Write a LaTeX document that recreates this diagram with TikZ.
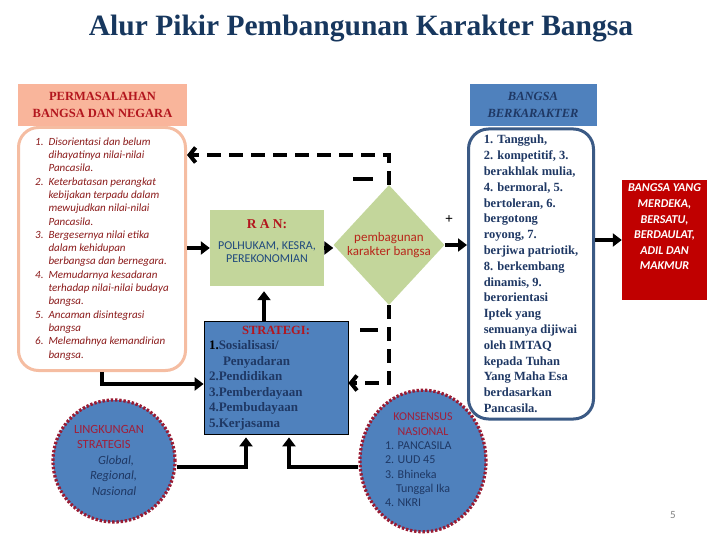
\documentclass[tikz,border=0pt]{standalone}
\usepackage{fontspec}
\setmainfont{Liberation Serif}
\newfontfamily\calibri{Carlito}
\usetikzlibrary{arrows.meta,shapes.geometric,calc}
\definecolor{titlenavy}{HTML}{17375E}
\definecolor{hdsalmon}{HTML}{F9B59B}
\definecolor{hdred}{HTML}{B3161E}
\definecolor{probline}{HTML}{F5BDA2}
\definecolor{listred}{HTML}{8B1A1A}
\definecolor{pptblue}{HTML}{4F81BD}
\definecolor{navy}{HTML}{1F3864}
\definecolor{karline}{HTML}{3B5A85}
\definecolor{ranfill}{HTML}{C3D69B}
\definecolor{diared}{HTML}{B8261A}
\definecolor{goalred}{HTML}{C00000}
\definecolor{dotred}{HTML}{9A1B33}
\definecolor{lsred}{HTML}{A01F3A}
\definecolor{polnavy}{HTML}{1F497D}
\tikzset{
  hdrbox/.style={rectangle, inner sep=0pt, align=center, minimum height=42pt},
  listbox/.style={rectangle, rounded corners=20pt, line width=3pt, fill=white, inner sep=0pt},
  plainbox/.style={rectangle, inner sep=0pt},
  dotcirc/.style={draw=dotred, line width=3.2pt, dash pattern=on 2.4pt off 1.8pt,
                  fill=pptblue, inner sep=0pt},
  arr/.style={-{Triangle[length=9pt,width=13pt]}, line width=4pt},
  fb/.style={-{Straight Barb[length=6pt,width=15pt]}, line width=4pt, dash pattern=on 14pt off 8pt},
  sign/.style={inner sep=0pt},
}

\begin{document}
\begin{tikzpicture}[x=1pt,y=-1pt]
\useasboundingbox (0,0) rectangle (720,540);

\node[font=\fontsize{29.5}{33}\selectfont\bfseries, text=titlenavy] (title) at (361,29)
   {Alur Pikir Pembangunan Karakter Bangsa};

% left column
\node[listbox, draw=probline, minimum width=167pt, minimum height=243pt, text=listred,
      font=\calibri\itshape\fontsize{11}{13.3}\selectfont] (probl) at (102,249)
   {\begin{tabular}{@{}r@{\hspace{5pt}}l@{}}
    1. & Disorientasi dan belum\\
       & dihayatinya nilai-nilai\\
       & Pancasila.\\
    2. & Keterbatasan perangkat\\
       & kebijakan terpadu dalam\\
       & mewujudkan nilai-nilai\\
       & Pancasila.\\
    3. & Bergesernya nilai etika\\
       & dalam kehidupan\\
       & berbangsa dan bernegara.\\
    4. & Memudarnya kesadaran\\
       & terhadap nilai-nilai budaya\\
       & bangsa.\\
    5. & Ancaman disintegrasi\\
       & bangsa\\
    6. & Melemahnya kemandirian\\
       & bangsa.
    \end{tabular}};
\node[hdrbox, fill=hdsalmon, minimum width=169pt, text=hdred,
      font=\fontsize{12.5}{17}\selectfont\bfseries] (probhdr) at (102.5,105)
   {PERMASALAHAN\\BANGSA DAN NEGARA};

\node[dotcirc, circle, minimum size=122pt, text=navy,
      font=\calibri\fontsize{12.5}{15.5}\selectfont] (lingk) at (114,461)
   {\begin{tabular}{@{}p{80pt}@{}}
    \textcolor{lsred}{LINGKUNGAN}\\
    \hspace{3pt}\textcolor{lsred}{STRATEGIS}\\
    \hspace{24pt}\itshape Global,\\
    \hspace{16pt}\itshape Regional,\\
    \hspace{18pt}\itshape Nasional
    \end{tabular}};

% middle column
\node[plainbox, fill=ranfill, minimum width=114pt, minimum height=76pt] (ran) at (267,248) {};
\node[align=center, text=polnavy, font=\calibri\fontsize{12}{12.5}\selectfont] (rantxt)
   at ([yshift=7pt]ran.center)
   {{\color{hdred}\fontsize{13.5}{16}\selectfont\bfseries\rmfamily R A N:}\\[9pt]
    POLHUKAM, KESRA,\\PEREKONOMIAN};

\node[diamond, fill=ranfill, inner sep=0pt, minimum width=111pt, minimum height=120pt] (dia)
   at (389,245) {};
\node[text=diared, align=center, font=\calibri\fontsize{13}{14}\selectfont] (diatxt)
   at (dia.center) {pembagunan\\karakter bangsa};

\node[plainbox, fill=pptblue, draw=black, line width=0.8pt, minimum width=144pt,
      minimum height=113pt, text=navy, font=\fontsize{13}{15.5}\selectfont\bfseries] (strat)
   at (276,377.5)
   {\begin{tabular}{@{}p{134pt}@{}}
    \multicolumn{1}{@{}c@{}}{\color{hdred}\fontsize{12.5}{15.5}\selectfont STRATEGI:}\\
    \textcolor{black}{1.}Sosialisasi/\\
    \hspace{14pt}Penyadaran\\
    2.Pendidikan\\
    3.Pemberdayaan\\
    4.Pembudayaan\\
    5.Kerjasama
    \end{tabular}};

\node[dotcirc, ellipse, minimum width=126pt, minimum height=134pt, text=navy,
      font=\calibri\fontsize{12}{14.3}\selectfont] (kons) at (423,461)
   {\begin{tabular}{@{}p{76pt}@{}}
    \multicolumn{1}{@{}c@{}}{\color{lsred}KONSENSUS}\\
    \multicolumn{1}{@{}c@{}}{\color{lsred}NASIONAL}\\
    1. PANCASILA\\
    2. UUD 45\\
    3. Bhineka\\
    \hspace{11pt}Tunggal Ika\\
    4. NKRI
    \end{tabular}};

% right column
\node[listbox, draw=karline, minimum width=125pt, minimum height=290pt, text=navy, align=left,
      font=\fontsize{12.5}{15.8}\selectfont\bfseries] (rbox) at (531,274)
   {1. Tangguh,\\2. kompetitif, 3.\\berakhlak mulia,\\4. bermoral, 5.\\bertoleran, 6.\\
    bergotong\\royong, 7.\\berjiwa patriotik,\\8. berkembang\\dinamis, 9.\\berorientasi\\
    Iptek yang\\semuanya dijiwai\\oleh IMTAQ\\kepada Tuhan\\Yang Maha Esa\\
    berdasarkan\\Pancasila.};
\node[hdrbox, fill=pptblue, minimum width=127pt, text=navy,
      font=\fontsize{12.5}{17}\selectfont\bfseries\itshape] (karhdr) at (533,105)
   {BANGSA\\BERKARAKTER};

\node[plainbox, fill=goalred, minimum width=85pt, minimum height=120pt] (goal) at (664.5,240) {};
\node[align=center, text=white, font=\calibri\bfseries\itshape\fontsize{12}{15.6}\selectfont]
   (goaltxt) at ([yshift=13pt]goal.center)
   {BANGSA YANG\\MERDEKA,\\BERSATU,\\BERDAULAT,\\ADIL DAN\\MAKMUR};

% main flow
\draw[arr] (probl.east |- ran.west) -- (ran.west);
\draw[arr] (ran.east) -- (ran.east -| dia.west);
\draw[arr] (dia.east) -- (dia.east -| rbox.west);
\draw[arr] (rbox.east |- goal.west) -- (goal.west);
\node[sign, font=\bfseries\fontsize{14}{14}\selectfont] (plus) at (449,220) {+};

% feedback loops
\coordinate (fbtop) at (389,155);
\draw[fb] (dia.north) -- (fbtop) -- (fbtop -| probl.east);
\node[sign] (minusA) at (363,179) {\rule{20pt}{3.5pt}};
\coordinate (fbbot) at (389,383);
\draw[fb] (dia.south) -- (fbbot) -- (fbbot -| strat.east);
\node[sign] (minusB) at (369,330) {\rule{18pt}{3.5pt}};

% into strategi
\draw[arr, shorten >=5pt] ([xshift=-12pt]strat.north) -- ([xshift=-12pt]strat.north |- ran.south);
\coordinate (inL) at (102,384);
\draw[arr] (probl.south) -- (inL) -- (inL -| strat.west);
\coordinate (joinL) at (246,467);
\draw[arr, shorten >=3pt] (lingk.east |- joinL) -- (joinL) -- (joinL |- strat.south);
\coordinate (joinR) at (289,467);
\draw[arr, shorten >=3pt] (kons.west |- joinR) -- (joinR) -- (joinR |- strat.south);

\node[text=gray, font=\calibri\fontsize{11}{11}\selectfont] (pagenum) at (673,515) {5};
\end{tikzpicture}
\end{document}
